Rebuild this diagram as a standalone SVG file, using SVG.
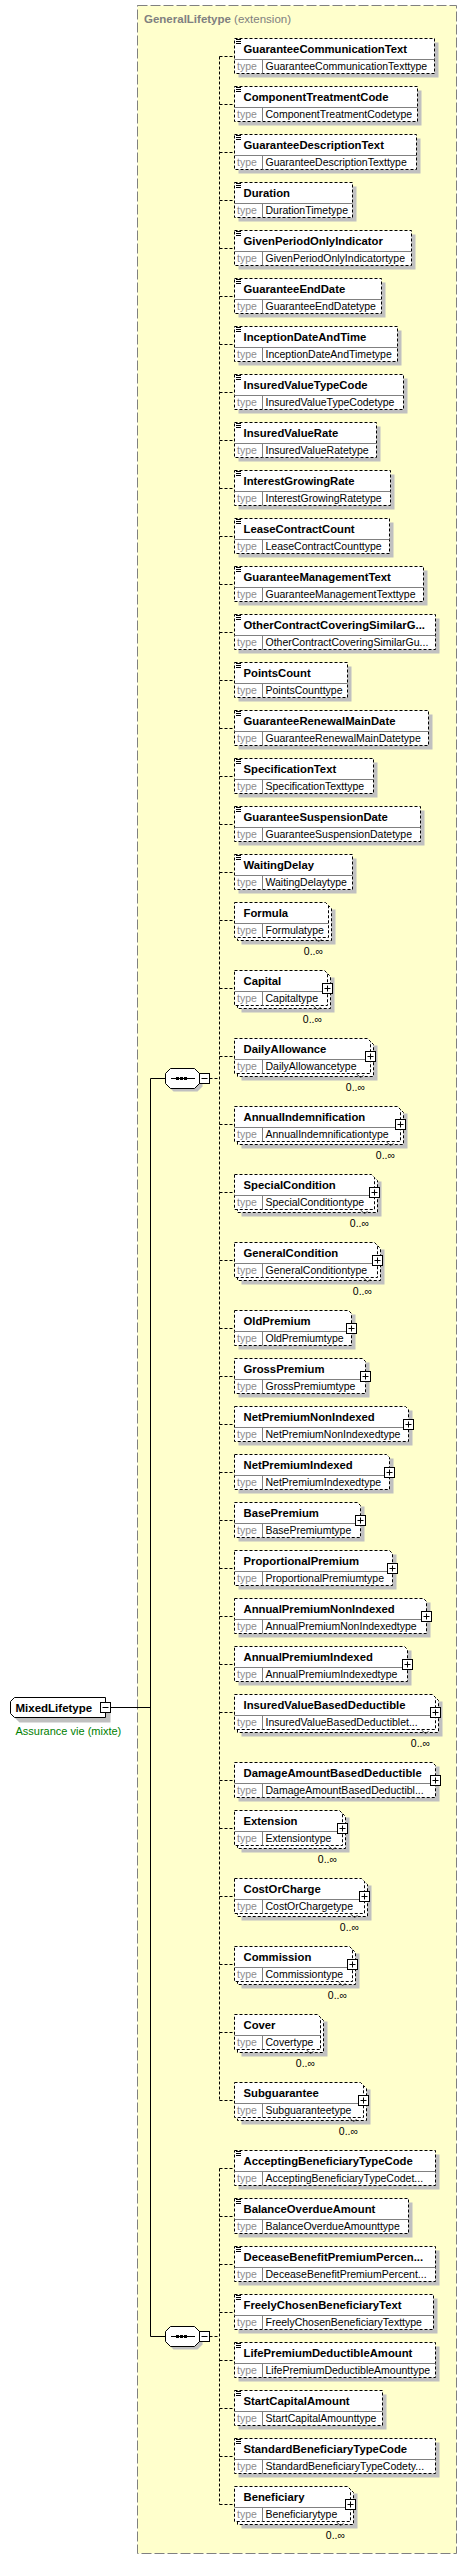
<svg xmlns="http://www.w3.org/2000/svg" width="467" height="2559" viewBox="0 0 467 2559">
<style>
text{font-family:"Liberation Sans",Arial,sans-serif}
.ext{fill:#ffffcc;stroke:#808080;stroke-dasharray:10 3}
.ttl{font-size:11.5px;fill:#808080}
.sh{fill:#c0c0c0}
.bx{fill:#fff;stroke:#000;stroke-dasharray:3 2}
.sp{fill:none;stroke:#808080}
.ic{fill:none;stroke:#000}
.nm{font-size:11.3px;font-weight:bold;fill:#000}
.tl{font-size:10.5px;fill:#8c8c8c}
.tv{font-size:10.5px;fill:#000}
.oc{font-size:10.5px;fill:#000;text-anchor:end}
.tk{fill:none;stroke:#404040}
.pb{fill:#fff;stroke:#000}
.pl{fill:none;stroke:#000}
.cb{fill:#fff;stroke:#000}
.cn{fill:none;stroke:#000;stroke-dasharray:3 2}
.sl{fill:none;stroke:#000}
.rn{font-size:11.5px;font-weight:bold;fill:#000}
.ann{font-size:11px;fill:#008000}
</style>
<rect class="ext" x="137.5" y="5.5" width="319" height="2548"/>
<text class="ttl" x="144" y="23"><tspan font-weight="bold">GeneralLifetype</tspan> (extension)</text>

<g id="connectors">
<path class="sl" d="M110.5 1707.5H150.5M150.5 1078.5V2336.5M150.5 1078.5H165.5M150.5 2336.5H165.5"/>
<path class="cn" d="M209.5 1078.5H219.5M209.5 2336.5H219.5M219.5 56.5V2100.5M219.5 2168.5V2504.5"/>
<path class="cn" d="M219.5 56.5H234.5M219.5 104.5H234.5M219.5 152.5H234.5M219.5 200.5H234.5M219.5 248.5H234.5M219.5 296.5H234.5M219.5 344.5H234.5M219.5 392.5H234.5M219.5 440.5H234.5M219.5 488.5H234.5M219.5 536.5H234.5M219.5 584.5H234.5M219.5 632.5H234.5M219.5 680.5H234.5M219.5 728.5H234.5M219.5 776.5H234.5M219.5 824.5H234.5M219.5 872.5H234.5M219.5 920.5H234.5M219.5 988.5H234.5M219.5 1056.5H234.5M219.5 1124.5H234.5M219.5 1192.5H234.5M219.5 1260.5H234.5M219.5 1328.5H234.5M219.5 1376.5H234.5M219.5 1424.5H234.5M219.5 1472.5H234.5M219.5 1520.5H234.5M219.5 1568.5H234.5M219.5 1616.5H234.5M219.5 1664.5H234.5M219.5 1712.5H234.5M219.5 1780.5H234.5M219.5 1828.5H234.5M219.5 1896.5H234.5M219.5 1964.5H234.5M219.5 2032.5H234.5M219.5 2100.5H234.5M219.5 2168.5H234.5M219.5 2216.5H234.5M219.5 2264.5H234.5M219.5 2312.5H234.5M219.5 2360.5H234.5M219.5 2408.5H234.5M219.5 2456.5H234.5M219.5 2504.5H234.5"/>
</g>

<g id="MixedLifetype">
<path class="sh" d="M19.5 1702.5H110.5V1722.5H19.5L15.5 1718.5V1706.5Z"/>
<path class="cb" d="M14.5 1697.5H105.5V1717.5H14.5L10.5 1713.5V1701.5Z"/>
<text class="rn" x="15.5" y="1711.5">MixedLifetype</text>
<rect class="pb" x="100.5" y="1702.5" width="10" height="10"/>
<path class="pl" d="M102.5 1707.5H108.5"/>
<text class="ann" x="15.5" y="1735">Assurance vie (mixte)</text>
</g>

<g id="sequence1">
<path class="sh" d="M173.5 1071.5H197.5L202.5 1076.5V1086.5L197.5 1091.5H173.5L168.5 1086.5V1076.5Z"/>
<path class="cb" d="M170.5 1068.5H194.5L199.5 1073.5V1083.5L194.5 1088.5H170.5L165.5 1083.5V1073.5Z"/>
<path class="sl" d="M171 1078.5H195"/>
<rect x="176" y="1077" width="3" height="3"/><rect x="180" y="1077" width="3" height="3"/><rect x="184" y="1077" width="3" height="3"/>
<rect class="pb" x="199.5" y="1073.5" width="10" height="10"/>
<path class="pl" d="M201.5 1078.5H207.5"/>
</g>

<g id="sequence2">
<path class="sh" d="M173.5 2329.5H197.5L202.5 2334.5V2344.5L197.5 2349.5H173.5L168.5 2344.5V2334.5Z"/>
<path class="cb" d="M170.5 2326.5H194.5L199.5 2331.5V2341.5L194.5 2346.5H170.5L165.5 2341.5V2331.5Z"/>
<path class="sl" d="M171 2336.5H195"/>
<rect x="176" y="2335" width="3" height="3"/><rect x="180" y="2335" width="3" height="3"/><rect x="184" y="2335" width="3" height="3"/>
<rect class="pb" x="199.5" y="2331.5" width="10" height="10"/>
<path class="pl" d="M201.5 2336.5H207.5"/>
</g>

<g id="GuaranteeCommunicationText" transform="translate(0,38.5)"><rect class="sh" x="238.5" y="4" width="200" height="35"/><rect class="bx" x="234.5" y="0" width="200" height="35"/><path class="sp" d="M234.5 21H434.5M262.5 21V35"/><path class="ic" d="M236 1h5M236 3h5M236 5h5"/><text class="nm" x="243.5" y="14">GuaranteeCommunicationText</text><text class="tl" x="237" y="31">type</text><text class="tv" x="265.5" y="31">GuaranteeCommunicationTexttype</text></g>
<g id="ComponentTreatmentCode" transform="translate(0,86.5)"><rect class="sh" x="238.5" y="4" width="183" height="35"/><rect class="bx" x="234.5" y="0" width="183" height="35"/><path class="sp" d="M234.5 21H417.5M262.5 21V35"/><path class="ic" d="M236 1h5M236 3h5M236 5h5"/><text class="nm" x="243.5" y="14">ComponentTreatmentCode</text><text class="tl" x="237" y="31">type</text><text class="tv" x="265.5" y="31">ComponentTreatmentCodetype</text></g>
<g id="GuaranteeDescriptionText" transform="translate(0,134.5)"><rect class="sh" x="238.5" y="4" width="182" height="35"/><rect class="bx" x="234.5" y="0" width="182" height="35"/><path class="sp" d="M234.5 21H416.5M262.5 21V35"/><path class="ic" d="M236 1h5M236 3h5M236 5h5"/><text class="nm" x="243.5" y="14">GuaranteeDescriptionText</text><text class="tl" x="237" y="31">type</text><text class="tv" x="265.5" y="31">GuaranteeDescriptionTexttype</text></g>
<g id="Duration" transform="translate(0,182.5)"><rect class="sh" x="238.5" y="4" width="118" height="35"/><rect class="bx" x="234.5" y="0" width="118" height="35"/><path class="sp" d="M234.5 21H352.5M262.5 21V35"/><path class="ic" d="M236 1h5M236 3h5M236 5h5"/><text class="nm" x="243.5" y="14">Duration</text><text class="tl" x="237" y="31">type</text><text class="tv" x="265.5" y="31">DurationTimetype</text></g>
<g id="GivenPeriodOnlyIndicator" transform="translate(0,230.5)"><rect class="sh" x="238.5" y="4" width="177" height="35"/><rect class="bx" x="234.5" y="0" width="177" height="35"/><path class="sp" d="M234.5 21H411.5M262.5 21V35"/><path class="ic" d="M236 1h5M236 3h5M236 5h5"/><text class="nm" x="243.5" y="14">GivenPeriodOnlyIndicator</text><text class="tl" x="237" y="31">type</text><text class="tv" x="265.5" y="31">GivenPeriodOnlyIndicatortype</text></g>
<g id="GuaranteeEndDate" transform="translate(0,278.5)"><rect class="sh" x="238.5" y="4" width="147" height="35"/><rect class="bx" x="234.5" y="0" width="147" height="35"/><path class="sp" d="M234.5 21H381.5M262.5 21V35"/><path class="ic" d="M236 1h5M236 3h5M236 5h5"/><text class="nm" x="243.5" y="14">GuaranteeEndDate</text><text class="tl" x="237" y="31">type</text><text class="tv" x="265.5" y="31">GuaranteeEndDatetype</text></g>
<g id="InceptionDateAndTime" transform="translate(0,326.5)"><rect class="sh" x="238.5" y="4" width="163" height="35"/><rect class="bx" x="234.5" y="0" width="163" height="35"/><path class="sp" d="M234.5 21H397.5M262.5 21V35"/><path class="ic" d="M236 1h5M236 3h5M236 5h5"/><text class="nm" x="243.5" y="14">InceptionDateAndTime</text><text class="tl" x="237" y="31">type</text><text class="tv" x="265.5" y="31">InceptionDateAndTimetype</text></g>
<g id="InsuredValueTypeCode" transform="translate(0,374.5)"><rect class="sh" x="238.5" y="4" width="169" height="35"/><rect class="bx" x="234.5" y="0" width="169" height="35"/><path class="sp" d="M234.5 21H403.5M262.5 21V35"/><path class="ic" d="M236 1h5M236 3h5M236 5h5"/><text class="nm" x="243.5" y="14">InsuredValueTypeCode</text><text class="tl" x="237" y="31">type</text><text class="tv" x="265.5" y="31">InsuredValueTypeCodetype</text></g>
<g id="InsuredValueRate" transform="translate(0,422.5)"><rect class="sh" x="238.5" y="4" width="142" height="35"/><rect class="bx" x="234.5" y="0" width="142" height="35"/><path class="sp" d="M234.5 21H376.5M262.5 21V35"/><path class="ic" d="M236 1h5M236 3h5M236 5h5"/><text class="nm" x="243.5" y="14">InsuredValueRate</text><text class="tl" x="237" y="31">type</text><text class="tv" x="265.5" y="31">InsuredValueRatetype</text></g>
<g id="InterestGrowingRate" transform="translate(0,470.5)"><rect class="sh" x="238.5" y="4" width="156" height="35"/><rect class="bx" x="234.5" y="0" width="156" height="35"/><path class="sp" d="M234.5 21H390.5M262.5 21V35"/><path class="ic" d="M236 1h5M236 3h5M236 5h5"/><text class="nm" x="243.5" y="14">InterestGrowingRate</text><text class="tl" x="237" y="31">type</text><text class="tv" x="265.5" y="31">InterestGrowingRatetype</text></g>
<g id="LeaseContractCount" transform="translate(0,518.5)"><rect class="sh" x="238.5" y="4" width="155" height="35"/><rect class="bx" x="234.5" y="0" width="155" height="35"/><path class="sp" d="M234.5 21H389.5M262.5 21V35"/><path class="ic" d="M236 1h5M236 3h5M236 5h5"/><text class="nm" x="243.5" y="14">LeaseContractCount</text><text class="tl" x="237" y="31">type</text><text class="tv" x="265.5" y="31">LeaseContractCounttype</text></g>
<g id="GuaranteeManagementText" transform="translate(0,566.5)"><rect class="sh" x="238.5" y="4" width="189" height="35"/><rect class="bx" x="234.5" y="0" width="189" height="35"/><path class="sp" d="M234.5 21H423.5M262.5 21V35"/><path class="ic" d="M236 1h5M236 3h5M236 5h5"/><text class="nm" x="243.5" y="14">GuaranteeManagementText</text><text class="tl" x="237" y="31">type</text><text class="tv" x="265.5" y="31">GuaranteeManagementTexttype</text></g>
<g id="OtherContractCoveringSimilarGuarantee" transform="translate(0,614.5)"><rect class="sh" x="238.5" y="4" width="201" height="35"/><rect class="bx" x="234.5" y="0" width="201" height="35"/><path class="sp" d="M234.5 21H435.5M262.5 21V35"/><path class="ic" d="M236 1h5M236 3h5M236 5h5"/><text class="nm" x="243.5" y="14">OtherContractCoveringSimilarG...</text><text class="tl" x="237" y="31">type</text><text class="tv" x="265.5" y="31">OtherContractCoveringSimilarGu...</text></g>
<g id="PointsCount" transform="translate(0,662.5)"><rect class="sh" x="238.5" y="4" width="113" height="35"/><rect class="bx" x="234.5" y="0" width="113" height="35"/><path class="sp" d="M234.5 21H347.5M262.5 21V35"/><path class="ic" d="M236 1h5M236 3h5M236 5h5"/><text class="nm" x="243.5" y="14">PointsCount</text><text class="tl" x="237" y="31">type</text><text class="tv" x="265.5" y="31">PointsCounttype</text></g>
<g id="GuaranteeRenewalMainDate" transform="translate(0,710.5)"><rect class="sh" x="238.5" y="4" width="194" height="35"/><rect class="bx" x="234.5" y="0" width="194" height="35"/><path class="sp" d="M234.5 21H428.5M262.5 21V35"/><path class="ic" d="M236 1h5M236 3h5M236 5h5"/><text class="nm" x="243.5" y="14">GuaranteeRenewalMainDate</text><text class="tl" x="237" y="31">type</text><text class="tv" x="265.5" y="31">GuaranteeRenewalMainDatetype</text></g>
<g id="SpecificationText" transform="translate(0,758.5)"><rect class="sh" x="238.5" y="4" width="139" height="35"/><rect class="bx" x="234.5" y="0" width="139" height="35"/><path class="sp" d="M234.5 21H373.5M262.5 21V35"/><path class="ic" d="M236 1h5M236 3h5M236 5h5"/><text class="nm" x="243.5" y="14">SpecificationText</text><text class="tl" x="237" y="31">type</text><text class="tv" x="265.5" y="31">SpecificationTexttype</text></g>
<g id="GuaranteeSuspensionDate" transform="translate(0,806.5)"><rect class="sh" x="238.5" y="4" width="186" height="35"/><rect class="bx" x="234.5" y="0" width="186" height="35"/><path class="sp" d="M234.5 21H420.5M262.5 21V35"/><path class="ic" d="M236 1h5M236 3h5M236 5h5"/><text class="nm" x="243.5" y="14">GuaranteeSuspensionDate</text><text class="tl" x="237" y="31">type</text><text class="tv" x="265.5" y="31">GuaranteeSuspensionDatetype</text></g>
<g id="WaitingDelay" transform="translate(0,854.5)"><rect class="sh" x="238.5" y="4" width="118" height="35"/><rect class="bx" x="234.5" y="0" width="118" height="35"/><path class="sp" d="M234.5 21H352.5M262.5 21V35"/><path class="ic" d="M236 1h5M236 3h5M236 5h5"/><text class="nm" x="243.5" y="14">WaitingDelay</text><text class="tl" x="237" y="31">type</text><text class="tv" x="265.5" y="31">WaitingDelaytype</text></g>

<g id="Formula" transform="translate(0,902.5)"><rect class="sh" x="241.5" y="7" width="94" height="35"/><path class="bx" d="M237.5 3H328.5L331.5 6V38H237.5Z"/><path class="bx" d="M234.5 0H325.5L328.5 3V35H234.5Z"/><path class="sp" d="M234.5 21H328.5M262.5 21V35"/><text class="nm" x="243.5" y="14">Formula</text><text class="tl" x="237" y="31">type</text><text class="tv" x="265.5" y="31">Formulatype</text><path class="tk" d="M314.5 35.5L318.5 39L321.5 37"/><text class="oc" x="323" y="52.5">0..∞</text></g>
<g id="Capital" transform="translate(0,970.5)"><rect class="sh" x="241.5" y="7" width="93" height="35"/><path class="bx" d="M237.5 3H327.5L330.5 6V38H237.5Z"/><path class="bx" d="M234.5 0H324.5L327.5 3V35H234.5Z"/><path class="sp" d="M234.5 21H327.5M262.5 21V35"/><text class="nm" x="243.5" y="14">Capital</text><text class="tl" x="237" y="31">type</text><text class="tv" x="265.5" y="31">Capitaltype</text><rect class="pb" x="322.5" y="13" width="10" height="10"/><path class="pl" d="M324.5 18H330.5M327.5 15V21"/><path class="tk" d="M313.5 35.5L317.5 39L320.5 37"/><text class="oc" x="322" y="52.5">0..∞</text></g>
<g id="DailyAllowance" transform="translate(0,1038.5)"><rect class="sh" x="241.5" y="7" width="136" height="35"/><path class="bx" d="M237.5 3H370.5L373.5 6V38H237.5Z"/><path class="bx" d="M234.5 0H367.5L370.5 3V35H234.5Z"/><path class="sp" d="M234.5 21H370.5M262.5 21V35"/><text class="nm" x="243.5" y="14">DailyAllowance</text><text class="tl" x="237" y="31">type</text><text class="tv" x="265.5" y="31">DailyAllowancetype</text><rect class="pb" x="365.5" y="13" width="10" height="10"/><path class="pl" d="M367.5 18H373.5M370.5 15V21"/><path class="tk" d="M356.5 35.5L360.5 39L363.5 37"/><text class="oc" x="365" y="52.5">0..∞</text></g>
<g id="AnnualIndemnification" transform="translate(0,1106.5)"><rect class="sh" x="241.5" y="7" width="166" height="35"/><path class="bx" d="M237.5 3H400.5L403.5 6V38H237.5Z"/><path class="bx" d="M234.5 0H397.5L400.5 3V35H234.5Z"/><path class="sp" d="M234.5 21H400.5M262.5 21V35"/><text class="nm" x="243.5" y="14">AnnualIndemnification</text><text class="tl" x="237" y="31">type</text><text class="tv" x="265.5" y="31">AnnualIndemnificationtype</text><rect class="pb" x="395.5" y="13" width="10" height="10"/><path class="pl" d="M397.5 18H403.5M400.5 15V21"/><path class="tk" d="M386.5 35.5L390.5 39L393.5 37"/><text class="oc" x="395" y="52.5">0..∞</text></g>
<g id="SpecialCondition" transform="translate(0,1174.5)"><rect class="sh" x="241.5" y="7" width="140" height="35"/><path class="bx" d="M237.5 3H374.5L377.5 6V38H237.5Z"/><path class="bx" d="M234.5 0H371.5L374.5 3V35H234.5Z"/><path class="sp" d="M234.5 21H374.5M262.5 21V35"/><text class="nm" x="243.5" y="14">SpecialCondition</text><text class="tl" x="237" y="31">type</text><text class="tv" x="265.5" y="31">SpecialConditiontype</text><rect class="pb" x="369.5" y="13" width="10" height="10"/><path class="pl" d="M371.5 18H377.5M374.5 15V21"/><path class="tk" d="M360.5 35.5L364.5 39L367.5 37"/><text class="oc" x="369" y="52.5">0..∞</text></g>
<g id="GeneralCondition" transform="translate(0,1242.5)"><rect class="sh" x="241.5" y="7" width="143" height="35"/><path class="bx" d="M237.5 3H377.5L380.5 6V38H237.5Z"/><path class="bx" d="M234.5 0H374.5L377.5 3V35H234.5Z"/><path class="sp" d="M234.5 21H377.5M262.5 21V35"/><text class="nm" x="243.5" y="14">GeneralCondition</text><text class="tl" x="237" y="31">type</text><text class="tv" x="265.5" y="31">GeneralConditiontype</text><rect class="pb" x="372.5" y="13" width="10" height="10"/><path class="pl" d="M374.5 18H380.5M377.5 15V21"/><path class="tk" d="M363.5 35.5L367.5 39L370.5 37"/><text class="oc" x="372" y="52.5">0..∞</text></g>
<g id="OldPremium" transform="translate(0,1310.5)"><rect class="sh" x="238.5" y="4" width="117" height="35"/><path class="bx" d="M234.5 0H348.5L351.5 3V35H234.5Z"/><path class="sp" d="M234.5 21H351.5M262.5 21V35"/><text class="nm" x="243.5" y="14">OldPremium</text><text class="tl" x="237" y="31">type</text><text class="tv" x="265.5" y="31">OldPremiumtype</text><rect class="pb" x="346.5" y="13" width="10" height="10"/><path class="pl" d="M348.5 18H354.5M351.5 15V21"/></g>
<g id="GrossPremium" transform="translate(0,1358.5)"><rect class="sh" x="238.5" y="4" width="131" height="35"/><path class="bx" d="M234.5 0H362.5L365.5 3V35H234.5Z"/><path class="sp" d="M234.5 21H365.5M262.5 21V35"/><text class="nm" x="243.5" y="14">GrossPremium</text><text class="tl" x="237" y="31">type</text><text class="tv" x="265.5" y="31">GrossPremiumtype</text><rect class="pb" x="360.5" y="13" width="10" height="10"/><path class="pl" d="M362.5 18H368.5M365.5 15V21"/></g>
<g id="NetPremiumNonIndexed" transform="translate(0,1406.5)"><rect class="sh" x="238.5" y="4" width="174" height="35"/><path class="bx" d="M234.5 0H405.5L408.5 3V35H234.5Z"/><path class="sp" d="M234.5 21H408.5M262.5 21V35"/><text class="nm" x="243.5" y="14">NetPremiumNonIndexed</text><text class="tl" x="237" y="31">type</text><text class="tv" x="265.5" y="31">NetPremiumNonIndexedtype</text><rect class="pb" x="403.5" y="13" width="10" height="10"/><path class="pl" d="M405.5 18H411.5M408.5 15V21"/></g>
<g id="NetPremiumIndexed" transform="translate(0,1454.5)"><rect class="sh" x="238.5" y="4" width="155" height="35"/><path class="bx" d="M234.5 0H386.5L389.5 3V35H234.5Z"/><path class="sp" d="M234.5 21H389.5M262.5 21V35"/><text class="nm" x="243.5" y="14">NetPremiumIndexed</text><text class="tl" x="237" y="31">type</text><text class="tv" x="265.5" y="31">NetPremiumIndexedtype</text><rect class="pb" x="384.5" y="13" width="10" height="10"/><path class="pl" d="M386.5 18H392.5M389.5 15V21"/></g>
<g id="BasePremium" transform="translate(0,1502.5)"><rect class="sh" x="238.5" y="4" width="126" height="35"/><path class="bx" d="M234.5 0H357.5L360.5 3V35H234.5Z"/><path class="sp" d="M234.5 21H360.5M262.5 21V35"/><text class="nm" x="243.5" y="14">BasePremium</text><text class="tl" x="237" y="31">type</text><text class="tv" x="265.5" y="31">BasePremiumtype</text><rect class="pb" x="355.5" y="13" width="10" height="10"/><path class="pl" d="M357.5 18H363.5M360.5 15V21"/></g>
<g id="ProportionalPremium" transform="translate(0,1550.5)"><rect class="sh" x="238.5" y="4" width="158" height="35"/><path class="bx" d="M234.5 0H389.5L392.5 3V35H234.5Z"/><path class="sp" d="M234.5 21H392.5M262.5 21V35"/><text class="nm" x="243.5" y="14">ProportionalPremium</text><text class="tl" x="237" y="31">type</text><text class="tv" x="265.5" y="31">ProportionalPremiumtype</text><rect class="pb" x="387.5" y="13" width="10" height="10"/><path class="pl" d="M389.5 18H395.5M392.5 15V21"/></g>
<g id="AnnualPremiumNonIndexed" transform="translate(0,1598.5)"><rect class="sh" x="238.5" y="4" width="192" height="35"/><path class="bx" d="M234.5 0H423.5L426.5 3V35H234.5Z"/><path class="sp" d="M234.5 21H426.5M262.5 21V35"/><text class="nm" x="243.5" y="14">AnnualPremiumNonIndexed</text><text class="tl" x="237" y="31">type</text><text class="tv" x="265.5" y="31">AnnualPremiumNonIndexedtype</text><rect class="pb" x="421.5" y="13" width="10" height="10"/><path class="pl" d="M423.5 18H429.5M426.5 15V21"/></g>
<g id="AnnualPremiumIndexed" transform="translate(0,1646.5)"><rect class="sh" x="238.5" y="4" width="173" height="35"/><path class="bx" d="M234.5 0H404.5L407.5 3V35H234.5Z"/><path class="sp" d="M234.5 21H407.5M262.5 21V35"/><text class="nm" x="243.5" y="14">AnnualPremiumIndexed</text><text class="tl" x="237" y="31">type</text><text class="tv" x="265.5" y="31">AnnualPremiumIndexedtype</text><rect class="pb" x="402.5" y="13" width="10" height="10"/><path class="pl" d="M404.5 18H410.5M407.5 15V21"/></g>
<g id="InsuredValueBasedDeductible" transform="translate(0,1694.5)"><rect class="sh" x="241.5" y="7" width="201" height="35"/><path class="bx" d="M237.5 3H435.5L438.5 6V38H237.5Z"/><path class="bx" d="M234.5 0H432.5L435.5 3V35H234.5Z"/><path class="sp" d="M234.5 21H435.5M262.5 21V35"/><text class="nm" x="243.5" y="14">InsuredValueBasedDeductible</text><text class="tl" x="237" y="31">type</text><text class="tv" x="265.5" y="31">InsuredValueBasedDeductiblet...</text><rect class="pb" x="430.5" y="13" width="10" height="10"/><path class="pl" d="M432.5 18H438.5M435.5 15V21"/><path class="tk" d="M421.5 35.5L425.5 39L428.5 37"/><text class="oc" x="430" y="52.5">0..∞</text></g>
<g id="DamageAmountBasedDeductible" transform="translate(0,1762.5)"><rect class="sh" x="238.5" y="4" width="201" height="35"/><path class="bx" d="M234.5 0H432.5L435.5 3V35H234.5Z"/><path class="sp" d="M234.5 21H435.5M262.5 21V35"/><text class="nm" x="243.5" y="14">DamageAmountBasedDeductible</text><text class="tl" x="237" y="31">type</text><text class="tv" x="265.5" y="31">DamageAmountBasedDeductibl...</text><rect class="pb" x="430.5" y="13" width="10" height="10"/><path class="pl" d="M432.5 18H438.5M435.5 15V21"/></g>
<g id="Extension" transform="translate(0,1810.5)"><rect class="sh" x="241.5" y="7" width="108" height="35"/><path class="bx" d="M237.5 3H342.5L345.5 6V38H237.5Z"/><path class="bx" d="M234.5 0H339.5L342.5 3V35H234.5Z"/><path class="sp" d="M234.5 21H342.5M262.5 21V35"/><text class="nm" x="243.5" y="14">Extension</text><text class="tl" x="237" y="31">type</text><text class="tv" x="265.5" y="31">Extensiontype</text><rect class="pb" x="337.5" y="13" width="10" height="10"/><path class="pl" d="M339.5 18H345.5M342.5 15V21"/><path class="tk" d="M328.5 35.5L332.5 39L335.5 37"/><text class="oc" x="337" y="52.5">0..∞</text></g>
<g id="CostOrCharge" transform="translate(0,1878.5)"><rect class="sh" x="241.5" y="7" width="130" height="35"/><path class="bx" d="M237.5 3H364.5L367.5 6V38H237.5Z"/><path class="bx" d="M234.5 0H361.5L364.5 3V35H234.5Z"/><path class="sp" d="M234.5 21H364.5M262.5 21V35"/><text class="nm" x="243.5" y="14">CostOrCharge</text><text class="tl" x="237" y="31">type</text><text class="tv" x="265.5" y="31">CostOrChargetype</text><rect class="pb" x="359.5" y="13" width="10" height="10"/><path class="pl" d="M361.5 18H367.5M364.5 15V21"/><path class="tk" d="M350.5 35.5L354.5 39L357.5 37"/><text class="oc" x="359" y="52.5">0..∞</text></g>
<g id="Commission" transform="translate(0,1946.5)"><rect class="sh" x="241.5" y="7" width="118" height="35"/><path class="bx" d="M237.5 3H352.5L355.5 6V38H237.5Z"/><path class="bx" d="M234.5 0H349.5L352.5 3V35H234.5Z"/><path class="sp" d="M234.5 21H352.5M262.5 21V35"/><text class="nm" x="243.5" y="14">Commission</text><text class="tl" x="237" y="31">type</text><text class="tv" x="265.5" y="31">Commissiontype</text><rect class="pb" x="347.5" y="13" width="10" height="10"/><path class="pl" d="M349.5 18H355.5M352.5 15V21"/><path class="tk" d="M338.5 35.5L342.5 39L345.5 37"/><text class="oc" x="347" y="52.5">0..∞</text></g>
<g id="Cover" transform="translate(0,2014.5)"><rect class="sh" x="241.5" y="7" width="86" height="35"/><path class="bx" d="M237.5 3H320.5L323.5 6V38H237.5Z"/><path class="bx" d="M234.5 0H317.5L320.5 3V35H234.5Z"/><path class="sp" d="M234.5 21H320.5M262.5 21V35"/><text class="nm" x="243.5" y="14">Cover</text><text class="tl" x="237" y="31">type</text><text class="tv" x="265.5" y="31">Covertype</text><path class="tk" d="M306.5 35.5L310.5 39L313.5 37"/><text class="oc" x="315" y="52.5">0..∞</text></g>
<g id="Subguarantee" transform="translate(0,2082.5)"><rect class="sh" x="241.5" y="7" width="129" height="35"/><path class="bx" d="M237.5 3H363.5L366.5 6V38H237.5Z"/><path class="bx" d="M234.5 0H360.5L363.5 3V35H234.5Z"/><path class="sp" d="M234.5 21H363.5M262.5 21V35"/><text class="nm" x="243.5" y="14">Subguarantee</text><text class="tl" x="237" y="31">type</text><text class="tv" x="265.5" y="31">Subguaranteetype</text><rect class="pb" x="358.5" y="13" width="10" height="10"/><path class="pl" d="M360.5 18H366.5M363.5 15V21"/><path class="tk" d="M349.5 35.5L353.5 39L356.5 37"/><text class="oc" x="358" y="52.5">0..∞</text></g>

<g id="AcceptingBeneficiaryTypeCode" transform="translate(0,2150.5)"><rect class="sh" x="238.5" y="4" width="201" height="35"/><rect class="bx" x="234.5" y="0" width="201" height="35"/><path class="sp" d="M234.5 21H435.5M262.5 21V35"/><path class="ic" d="M236 1h5M236 3h5M236 5h5"/><text class="nm" x="243.5" y="14">AcceptingBeneficiaryTypeCode</text><text class="tl" x="237" y="31">type</text><text class="tv" x="265.5" y="31">AcceptingBeneficiaryTypeCodet...</text></g>
<g id="BalanceOverdueAmount" transform="translate(0,2198.5)"><rect class="sh" x="238.5" y="4" width="174" height="35"/><rect class="bx" x="234.5" y="0" width="174" height="35"/><path class="sp" d="M234.5 21H408.5M262.5 21V35"/><path class="ic" d="M236 1h5M236 3h5M236 5h5"/><text class="nm" x="243.5" y="14">BalanceOverdueAmount</text><text class="tl" x="237" y="31">type</text><text class="tv" x="265.5" y="31">BalanceOverdueAmounttype</text></g>
<g id="DeceaseBenefitPremiumPercentage" transform="translate(0,2246.5)"><rect class="sh" x="238.5" y="4" width="201" height="35"/><rect class="bx" x="234.5" y="0" width="201" height="35"/><path class="sp" d="M234.5 21H435.5M262.5 21V35"/><path class="ic" d="M236 1h5M236 3h5M236 5h5"/><text class="nm" x="243.5" y="14">DeceaseBenefitPremiumPercen...</text><text class="tl" x="237" y="31">type</text><text class="tv" x="265.5" y="31">DeceaseBenefitPremiumPercent...</text></g>
<g id="FreelyChosenBeneficiaryText" transform="translate(0,2294.5)"><rect class="sh" x="238.5" y="4" width="199" height="35"/><rect class="bx" x="234.5" y="0" width="199" height="35"/><path class="sp" d="M234.5 21H433.5M262.5 21V35"/><path class="ic" d="M236 1h5M236 3h5M236 5h5"/><text class="nm" x="243.5" y="14">FreelyChosenBeneficiaryText</text><text class="tl" x="237" y="31">type</text><text class="tv" x="265.5" y="31">FreelyChosenBeneficiaryTexttype</text></g>
<g id="LifePremiumDeductibleAmount" transform="translate(0,2342.5)"><rect class="sh" x="238.5" y="4" width="201" height="35"/><rect class="bx" x="234.5" y="0" width="201" height="35"/><path class="sp" d="M234.5 21H435.5M262.5 21V35"/><path class="ic" d="M236 1h5M236 3h5M236 5h5"/><text class="nm" x="243.5" y="14">LifePremiumDeductibleAmount</text><text class="tl" x="237" y="31">type</text><text class="tv" x="265.5" y="31">LifePremiumDeductibleAmounttype</text></g>
<g id="StartCapitalAmount" transform="translate(0,2390.5)"><rect class="sh" x="238.5" y="4" width="148" height="35"/><rect class="bx" x="234.5" y="0" width="148" height="35"/><path class="sp" d="M234.5 21H382.5M262.5 21V35"/><path class="ic" d="M236 1h5M236 3h5M236 5h5"/><text class="nm" x="243.5" y="14">StartCapitalAmount</text><text class="tl" x="237" y="31">type</text><text class="tv" x="265.5" y="31">StartCapitalAmounttype</text></g>
<g id="StandardBeneficiaryTypeCode" transform="translate(0,2438.5)"><rect class="sh" x="238.5" y="4" width="201" height="35"/><rect class="bx" x="234.5" y="0" width="201" height="35"/><path class="sp" d="M234.5 21H435.5M262.5 21V35"/><path class="ic" d="M236 1h5M236 3h5M236 5h5"/><text class="nm" x="243.5" y="14">StandardBeneficiaryTypeCode</text><text class="tl" x="237" y="31">type</text><text class="tv" x="265.5" y="31">StandardBeneficiaryTypeCodety...</text></g>
<g id="Beneficiary" transform="translate(0,2486.5)"><rect class="sh" x="241.5" y="7" width="116" height="35"/><path class="bx" d="M237.5 3H350.5L353.5 6V38H237.5Z"/><path class="bx" d="M234.5 0H347.5L350.5 3V35H234.5Z"/><path class="sp" d="M234.5 21H350.5M262.5 21V35"/><text class="nm" x="243.5" y="14">Beneficiary</text><text class="tl" x="237" y="31">type</text><text class="tv" x="265.5" y="31">Beneficiarytype</text><rect class="pb" x="345.5" y="13" width="10" height="10"/><path class="pl" d="M347.5 18H353.5M350.5 15V21"/><path class="tk" d="M336.5 35.5L340.5 39L343.5 37"/><text class="oc" x="345" y="52.5">0..∞</text></g>
</svg>
